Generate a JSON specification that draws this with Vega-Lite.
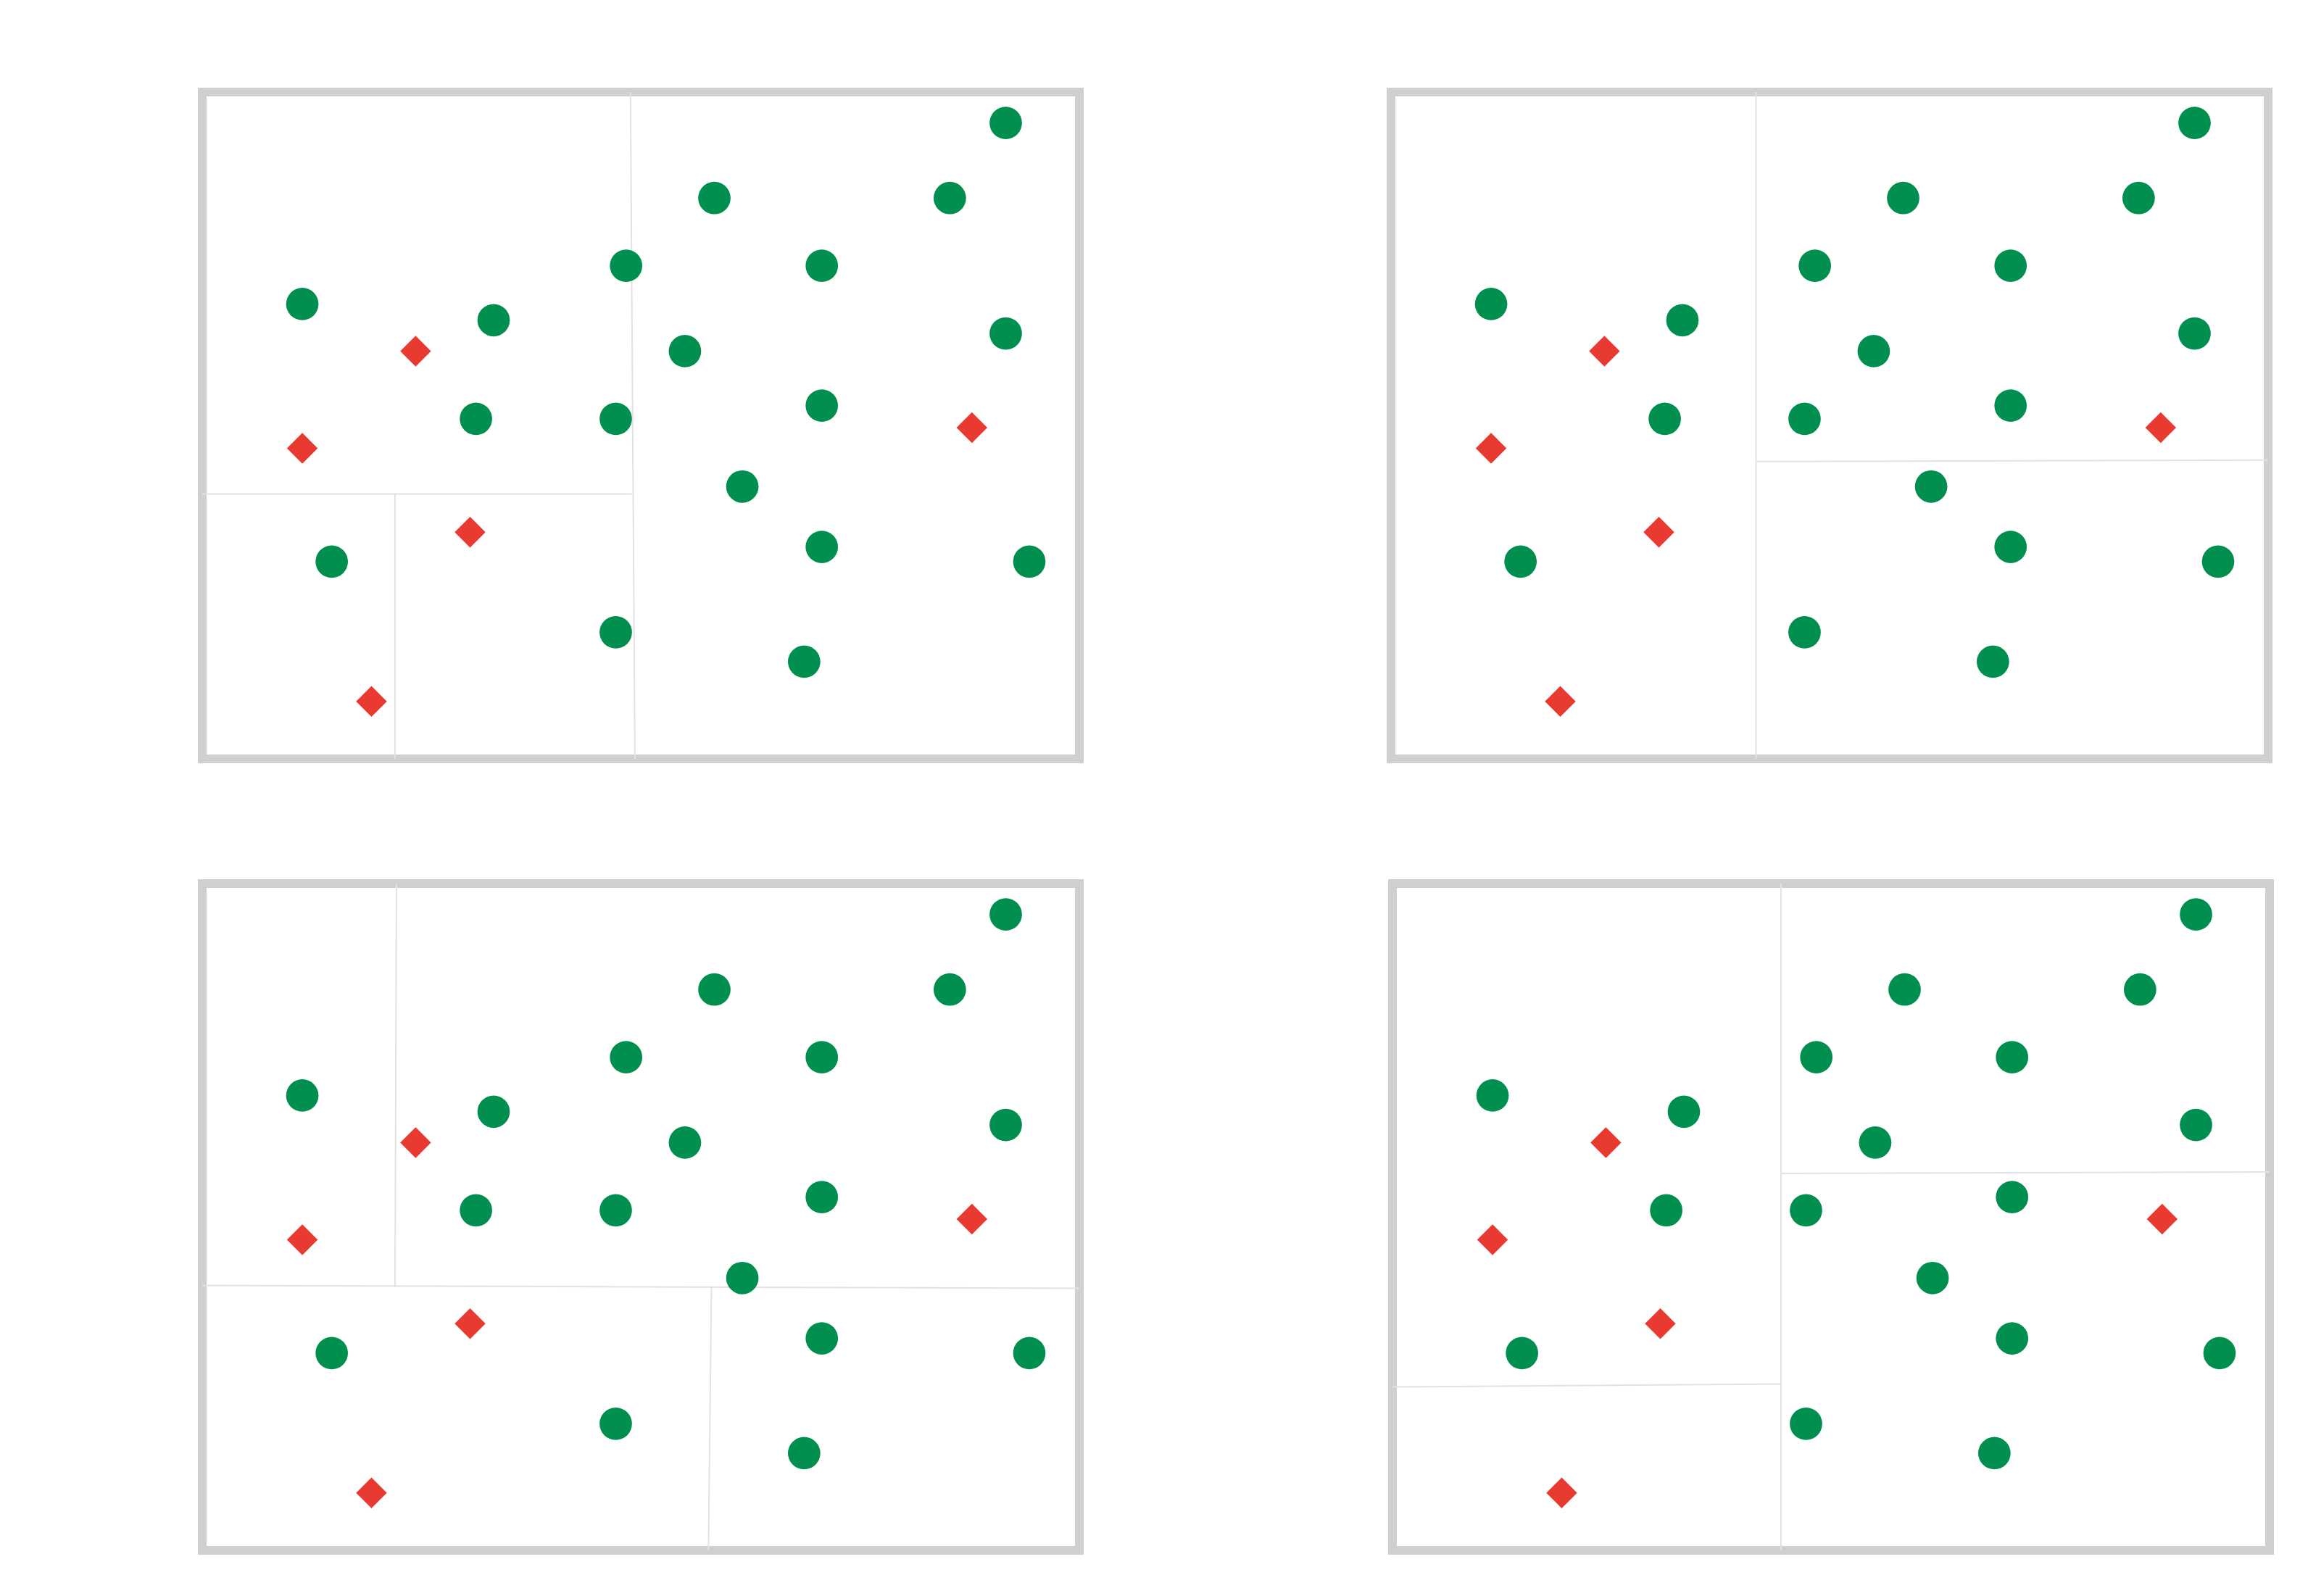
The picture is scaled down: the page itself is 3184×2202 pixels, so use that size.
{
"$schema":"https://vega.github.io/schema/vega-lite/v6.json",
"background":"white",
"padding":{"left":272,"top":120,"right":0,"bottom":0},
"autosize":{"type":"pad"},
"config":{"view":{"stroke":"#cfcfcf","strokeWidth":12}},
"datasets":{
"pts":[
{"x":546,"y":21,"c":"g"},{"x":348,"y":72,"c":"g"},{"x":508,"y":72,"c":"g"},{"x":288,"y":118,"c":"g"},{"x":421,"y":118,"c":"g"},{"x":68,"y":144,"c":"g"},{"x":198,"y":155,"c":"g"},{"x":328,"y":176,"c":"g"},{"x":546,"y":164,"c":"g"},{"x":186,"y":222,"c":"g"},{"x":281,"y":222,"c":"g"},{"x":421,"y":213,"c":"g"},{"x":367,"y":268,"c":"g"},{"x":421,"y":309,"c":"g"},{"x":88,"y":319,"c":"g"},{"x":562,"y":319,"c":"g"},{"x":281,"y":367,"c":"g"},{"x":409,"y":387,"c":"g"},
{"x":145,"y":176,"c":"r"},{"x":68,"y":242,"c":"r"},{"x":523,"y":228,"c":"r"},{"x":182,"y":299,"c":"r"},{"x":115,"y":414,"c":"r"}],
"lines":[
{"p":1,"x":0,"y":273,"x2":292,"y2":273},{"p":1,"x":291,"y":0,"x2":294,"y2":453},{"p":1,"x":131,"y":273,"x2":131,"y2":453},
{"p":2,"x":248,"y":0,"x2":248,"y2":453},{"p":2,"x":248,"y":251,"x2":596,"y2":250},
{"p":3,"x":132,"y":0,"x2":131,"y2":274},{"p":3,"x":0,"y":273,"x2":596,"y2":275},{"p":3,"x":346,"y":274,"x2":344,"y2":453},
{"p":4,"x":264,"y":0,"x2":264,"y2":453},{"p":4,"x":264,"y":197,"x2":596,"y2":196},{"p":4,"x":0,"y":342,"x2":264,"y2":340}]
},
"vconcat":[
{"spacing":418,"hconcat":[
{"width":1210,"height":920,"layer":[
{"data":{"name":"lines"},"transform":[{"filter":"datum.p==1"}],"mark":{"type":"rule","color":"#e2e2e2","strokeWidth":2},"encoding":{"x":{"field":"x","type":"quantitative","scale":{"domain":[0,596]},"axis":null},"y":{"field":"y","type":"quantitative","scale":{"domain":[0,453],"reverse":true},"axis":null},"x2":{"field":"x2"},"y2":{"field":"y2"}}},
{"data":{"name":"pts"},"mark":{"type":"point","filled":true,"opacity":1},"encoding":{"x":{"field":"x","type":"quantitative","scale":{"domain":[0,596]},"axis":null},"y":{"field":"y","type":"quantitative","scale":{"domain":[0,453],"reverse":true},"axis":null},"shape":{"field":"c","type":"nominal","scale":{"domain":["g","r"],"range":["circle","diamond"]},"legend":null},"color":{"field":"c","type":"nominal","scale":{"domain":["g","r"],"range":["#008f4f","#e83a30"]},"legend":null},"size":{"field":"c","type":"nominal","scale":{"domain":["g","r"],"range":[2000,1800]},"legend":null}}}]},
{"width":1210,"height":920,"layer":[
{"data":{"name":"lines"},"transform":[{"filter":"datum.p==2"}],"mark":{"type":"rule","color":"#e2e2e2","strokeWidth":2},"encoding":{"x":{"field":"x","type":"quantitative","scale":{"domain":[0,596]},"axis":null},"y":{"field":"y","type":"quantitative","scale":{"domain":[0,453],"reverse":true},"axis":null},"x2":{"field":"x2"},"y2":{"field":"y2"}}},
{"data":{"name":"pts"},"mark":{"type":"point","filled":true,"opacity":1},"encoding":{"x":{"field":"x","type":"quantitative","scale":{"domain":[0,596]},"axis":null},"y":{"field":"y","type":"quantitative","scale":{"domain":[0,453],"reverse":true},"axis":null},"shape":{"field":"c","type":"nominal","scale":{"domain":["g","r"],"range":["circle","diamond"]},"legend":null},"color":{"field":"c","type":"nominal","scale":{"domain":["g","r"],"range":["#008f4f","#e83a30"]},"legend":null},"size":{"field":"c","type":"nominal","scale":{"domain":["g","r"],"range":[2000,1800]},"legend":null}}}]}]},
{"spacing":418,"hconcat":[
{"width":1210,"height":920,"layer":[
{"data":{"name":"lines"},"transform":[{"filter":"datum.p==3"}],"mark":{"type":"rule","color":"#e2e2e2","strokeWidth":2},"encoding":{"x":{"field":"x","type":"quantitative","scale":{"domain":[0,596]},"axis":null},"y":{"field":"y","type":"quantitative","scale":{"domain":[0,453],"reverse":true},"axis":null},"x2":{"field":"x2"},"y2":{"field":"y2"}}},
{"data":{"name":"pts"},"mark":{"type":"point","filled":true,"opacity":1},"encoding":{"x":{"field":"x","type":"quantitative","scale":{"domain":[0,596]},"axis":null},"y":{"field":"y","type":"quantitative","scale":{"domain":[0,453],"reverse":true},"axis":null},"shape":{"field":"c","type":"nominal","scale":{"domain":["g","r"],"range":["circle","diamond"]},"legend":null},"color":{"field":"c","type":"nominal","scale":{"domain":["g","r"],"range":["#008f4f","#e83a30"]},"legend":null},"size":{"field":"c","type":"nominal","scale":{"domain":["g","r"],"range":[2000,1800]},"legend":null}}}]},
{"width":1210,"height":920,"layer":[
{"data":{"name":"lines"},"transform":[{"filter":"datum.p==4"}],"mark":{"type":"rule","color":"#e2e2e2","strokeWidth":2},"encoding":{"x":{"field":"x","type":"quantitative","scale":{"domain":[0,596]},"axis":null},"y":{"field":"y","type":"quantitative","scale":{"domain":[0,453],"reverse":true},"axis":null},"x2":{"field":"x2"},"y2":{"field":"y2"}}},
{"data":{"name":"pts"},"mark":{"type":"point","filled":true,"opacity":1},"encoding":{"x":{"field":"x","type":"quantitative","scale":{"domain":[0,596]},"axis":null},"y":{"field":"y","type":"quantitative","scale":{"domain":[0,453],"reverse":true},"axis":null},"shape":{"field":"c","type":"nominal","scale":{"domain":["g","r"],"range":["circle","diamond"]},"legend":null},"color":{"field":"c","type":"nominal","scale":{"domain":["g","r"],"range":["#008f4f","#e83a30"]},"legend":null},"size":{"field":"c","type":"nominal","scale":{"domain":["g","r"],"range":[2000,1800]},"legend":null}}}]}]}
],
"spacing":158
}
